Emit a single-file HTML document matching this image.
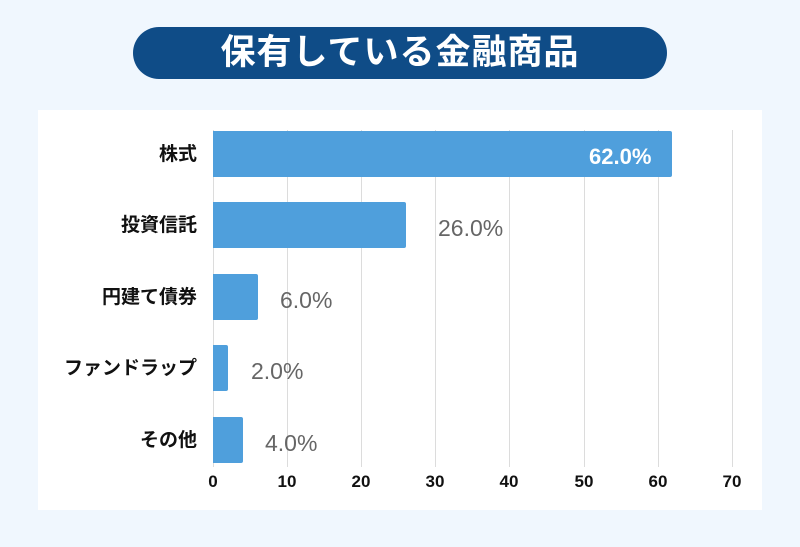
<!DOCTYPE html><html><head><meta charset="utf-8"><style>
body{margin:0;width:800px;height:547px;background:#f0f7fe;position:relative;overflow:hidden;font-family:"Liberation Sans","Noto Sans CJK JP",sans-serif}
.pill{position:absolute;left:133px;top:27px;width:534px;height:52px;border-radius:26px;background:#0f4c87;color:#fff;font-size:35px;font-weight:bold;text-align:center;line-height:52px;letter-spacing:1px}
.panel{position:absolute;left:38px;top:110px;width:724px;height:400px;background:#fff}
.g{position:absolute;top:130px;height:337px;width:1px;background:#dcdcdc}
.bar{position:absolute;left:213px;height:46px;background:#4f9fdc;border-radius:0 2px 2px 0}
.cat{position:absolute;right:603px;font-size:19px;font-weight:bold;color:#111;line-height:48px;white-space:nowrap}
.v{position:absolute;font-size:23px;color:#666;line-height:48px}
.t{position:absolute;top:472px;font-size:17px;font-weight:bold;color:#111;width:40px;margin-left:-20px;text-align:center}
</style></head><body>
<div class="pill">保有している金融商品</div>
<div class="panel"></div>
<div class="g" style="left:213px"></div><div class="g" style="left:287px"></div><div class="g" style="left:361px"></div><div class="g" style="left:435px"></div><div class="g" style="left:509px"></div><div class="g" style="left:584px"></div><div class="g" style="left:658px"></div><div class="g" style="left:732px"></div>
<div class="bar" style="top:131px;width:459px"></div>
<div class="bar" style="top:202px;width:193px"></div>
<div class="bar" style="top:274px;width:45px"></div>
<div class="bar" style="top:345px;width:15px"></div>
<div class="bar" style="top:417px;width:30px"></div>
<div class="cat" style="top:131px">株式</div>
<div class="cat" style="top:202px">投資信託</div>
<div class="cat" style="top:274px">円建て債券</div>
<div class="cat" style="top:345px">ファンドラップ</div>
<div class="cat" style="top:417px">その他</div>
<div class="v" style="top:133px;left:589px;color:#fff;font-weight:bold;font-size:22px">62.0%</div>
<div class="v" style="top:204px;left:438px">26.0%</div>
<div class="v" style="top:276px;left:280px">6.0%</div>
<div class="v" style="top:347px;left:251px">2.0%</div>
<div class="v" style="top:419px;left:265px">4.0%</div>
<div class="t" style="left:213px">0</div><div class="t" style="left:287px">10</div><div class="t" style="left:361px">20</div><div class="t" style="left:435px">30</div><div class="t" style="left:509px">40</div><div class="t" style="left:584px">50</div><div class="t" style="left:658px">60</div><div class="t" style="left:732px">70</div>
</body></html>
